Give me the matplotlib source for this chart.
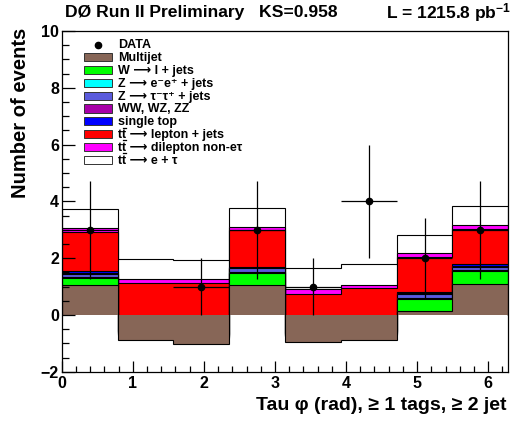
import numpy as np
import matplotlib
matplotlib.use('Agg')
import matplotlib.pyplot as plt
from matplotlib.patches import Rectangle
from matplotlib.lines import Line2D
from matplotlib.ticker import MultipleLocator

plt.rcParams['font.family'] = ['Liberation Sans', 'DejaVu Sans']
plt.rcParams['font.weight'] = 'bold'
plt.rcParams['mathtext.fontset'] = 'custom'
plt.rcParams['mathtext.rm'] = 'Liberation Sans:bold'
plt.rcParams['mathtext.it'] = 'Liberation Sans:bold'
plt.rcParams['mathtext.bf'] = 'Liberation Sans:bold'
plt.rcParams['mathtext.sf'] = 'Liberation Sans:bold'

# tau phi binning, 8 bins over [0, 2pi]
bin_edges = np.pi / 4 * np.arange(9)

# background components per bin (stacked in this order)
multijet = [1.04, -0.89, -1.01, 1.07, -0.96, -0.89, 0.14, 1.08]
w_jets = [0.27, 0.20, 0.20, 0.41, 0.20, 0.20, 0.41, 0.46]
z_ee = [0.04, 0.02, 0.02, 0.04, 0.02, 0.02, 0.05, 0.04]
z_tautau = [0.10, 0.05, 0.05, 0.12, 0.05, 0.05, 0.13, 0.12]
diboson = [0.04, 0.02, 0.02, 0.03, 0.02, 0.02, 0.03, 0.04]
single_top = [0.06, 0.05, 0.05, 0.03, 0.04, 0.04, 0.05, 0.04]
tt_ljets = [1.36, 1.67, 1.79, 1.29, 1.38, 1.51, 1.22, 1.25]
tt_dilep = [0.14, 0.14, 0.14, 0.12, 0.15, 0.11, 0.16, 0.12]
tt_etau = [0.69, 0.70, 0.68, 0.67, 0.76, 0.72, 0.63, 0.69]

data = [3, 0, 1, 3, 1, 4, 2, 3]
data_err = [1.73, 0.0, 1.0, 1.73, 1.0, 2.0, 1.41, 1.73]

# legend labels as pieces; 'TBAR' is a t with an overline drawn by hand
labels = [['Multijet'],
          ['W ⟶ l + jets'],
          ['Z ⟶ e⁻e⁺ + jets'],
          ['Z ⟶ τ⁻τ⁺ + jets'],
          ['WW, WZ, ZZ'],
          ['single top'],
          ['t', 'TBAR', ' ⟶ lepton + jets'],
          ['t', 'TBAR', ' ⟶ dilepton non-eτ'],
          ['t', 'TBAR', ' ⟶ e + τ']]
colors = ['#876657', '#00ff00', '#00ffff', '#5a5adc', '#a800a8',
          '#0000ff', '#ff0000', '#ff00ff', '#ffffff']

W, H = 531, 428
fig = plt.figure(figsize=(W / 100, H / 100), dpi=100)
ax = fig.add_axes([61.7 / W, 1 - 371.7 / H, (508.3 - 61.7) / W, (371.7 - 31) / H])

components = [multijet, w_jets, z_ee, z_tautau, diboson, single_top,
              tt_ljets, tt_dilep, tt_etau]
cum = np.cumsum(np.array(components), axis=0)

# ROOT-style stack: each cumulative histogram filled from zero, top one first
for i in reversed(range(len(components))):
    ax.stairs(cum[i], bin_edges, baseline=0, fill=True,
              facecolor=colors[i], edgecolor='none')
    ax.stairs(cum[i], bin_edges, baseline=0, color='black', lw=0.8)

centers = (bin_edges[:-1] + bin_edges[1:]) / 2
half = np.diff(bin_edges) / 2
d = np.array(data, dtype=float)
m = d > 0
ax.errorbar(centers[m], d[m], xerr=half[m], yerr=np.array(data_err)[m],
            fmt='o', color='black', ms=4.5, lw=0.9, capsize=0)

ax.set_xlim(0, 2 * np.pi)
ax.set_ylim(-2, 10)
ax.set_xticks(range(7))
ax.set_yticks(range(-2, 11, 2))
ax.xaxis.set_minor_locator(MultipleLocator(0.2))
ax.yaxis.set_minor_locator(MultipleLocator(0.5))
ax.tick_params(axis='both', which='both', direction='in', top=False, right=False,
               labelsize=11.5, width=0.9)
ax.tick_params(axis='y', which='major', length=9.4, pad=2)
ax.tick_params(axis='y', which='minor', length=5)
ax.tick_params(axis='x', which='major', length=8, pad=3)
ax.tick_params(axis='x', which='minor', length=4.3)
for lab in ax.get_xticklabels() + ax.get_yticklabels():
    lab.set_fontweight('bold')
for s in ax.spines.values():
    s.set_linewidth(0.9)


def fx(px):
    return px / W


def fy(py):
    return 1 - py / H


renderer = fig.canvas.get_renderer()


def draw_pieces(x, y, pieces):
    # put text pieces one after another on the same baseline (y in px from top)
    for p in pieces:
        s = 't' if p == 'TBAR' else p
        t = fig.text(fx(x), fy(y), s, fontsize=9, fontweight='bold', va='baseline')
        bb = t.get_window_extent(renderer)
        if p == 'TBAR':
            fig.add_artist(Line2D([fx(bb.x0 + 0.6), fx(bb.x1 - 0.6)],
                                  [fy(y - 10.5), fy(y - 10.5)], color='black',
                                  lw=0.9, transform=fig.transFigure))
        x = bb.x1


# legend, drawn by hand like the ROOT TLegend
row0, step = 44.5, 12.8
fig.add_artist(Line2D([fx(98)], [fy(row0)], marker='o', color='black', ms=4.5,
                      transform=fig.transFigure))
draw_pieces(118, row0 + 4, ['DATA'])
for i, (lab, c) in enumerate(zip(labels, colors)):
    yc = row0 + step * (i + 1)
    fig.add_artist(Rectangle((fx(83.5), fy(yc + 4.1)), 28.5 / W, 8.2 / H,
                             facecolor=c, edgecolor='#333333', lw=0.7,
                             transform=fig.transFigure))
    draw_pieces(118, yc + 4, lab)

fig.text(fx(65), fy(12.5), 'DØ Run II Preliminary   KS=0.958', fontsize=12.6,
         fontweight='bold', va='center')
fig.text(fx(511), fy(12.5), r'L = 1215.8 pb$^{-1}$', fontsize=12.5,
         fontweight='bold', va='center', ha='right')
fig.text(fx(21), fy(28), 'Number of events', fontsize=14.5, fontweight='bold',
         rotation=90, ha='center', va='top')
fig.text(fx(507), fy(405), 'Tau φ (rad), ≥ 1 tags, ≥ 2 jet',
         fontsize=14, fontweight='bold', ha='right', va='center')

fig.savefig('out.png', dpi=100)
